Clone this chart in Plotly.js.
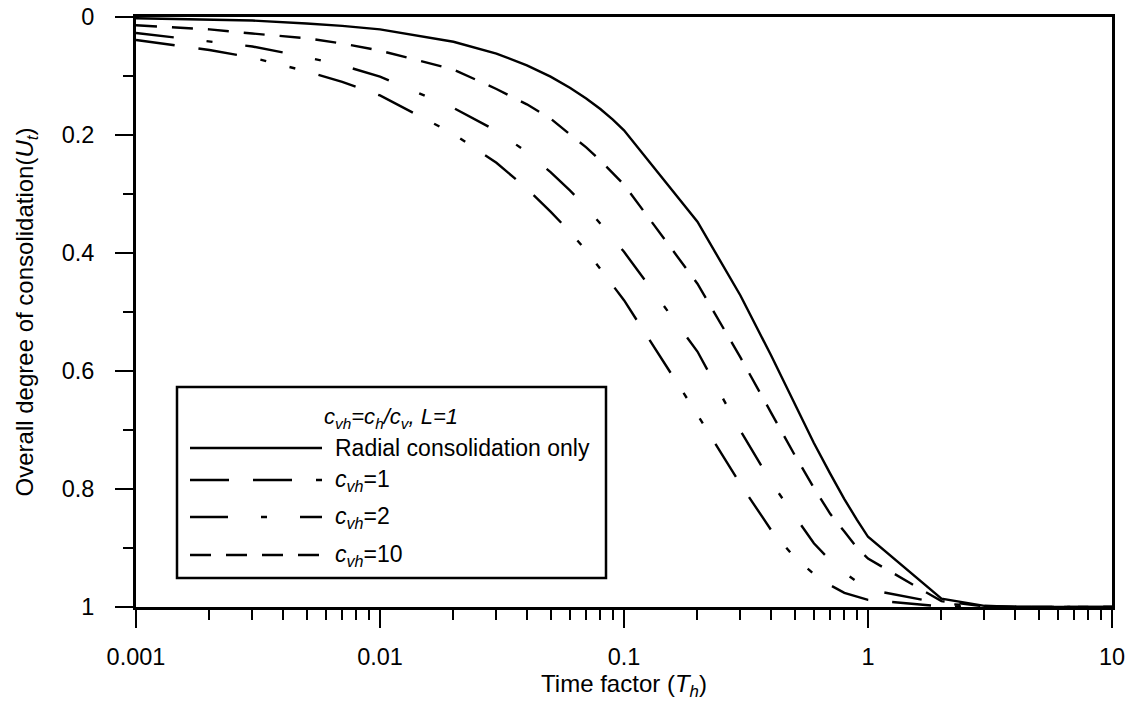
<!DOCTYPE html>
<html><head><meta charset="utf-8">
<script src="https://cdn.plot.ly/plotly-3.0.1.min.js"></script>
<style>html,body{margin:0;padding:0;background:#fff;}#chart{width:1136px;height:706px;}</style>
</head><body><div id="chart"></div>
<script>
// Time factor T_h (nodes of the curves)
const timeFactor = [0.001,0.002,0.003,0.005,0.007,0.01,0.02,0.03,0.04,0.05,0.06,0.07,0.08,0.09,0.1,0.2,0.3,0.4,0.5,0.6,0.7,0.8,0.9,1,2,3,4,5,10];
// Overall degree of consolidation U_t
const radialOnly = [0.002,0.004,0.006,0.011,0.015,0.021,0.042,0.062,0.082,0.101,0.120,0.138,0.156,0.174,0.192,0.347,0.472,0.573,0.655,0.722,0.774,0.817,0.852,0.881,0.986,0.998,1,1,1];
const cvh1 = [0.039,0.056,0.069,0.092,0.110,0.133,0.198,0.247,0.291,0.330,0.364,0.396,0.427,0.454,0.480,0.674,0.792,0.869,0.916,0.944,0.963,0.976,0.983,0.988,0.999,1,1,1,1];
const cvh2 = [0.027,0.042,0.050,0.068,0.082,0.101,0.154,0.193,0.229,0.263,0.294,0.322,0.350,0.376,0.398,0.567,0.701,0.788,0.845,0.892,0.921,0.942,0.957,0.970,0.994,0.999,1,1,1];
const cvh10 = [0.014,0.021,0.028,0.036,0.045,0.057,0.089,0.122,0.148,0.172,0.199,0.221,0.243,0.265,0.284,0.452,0.577,0.670,0.742,0.798,0.842,0.872,0.899,0.918,0.990,0.999,1,1,1];

const seriesNames = ["Radial consolidation only", "<i>c</i><sub><i>vh</i></sub>=1", "<i>c</i><sub><i>vh</i></sub>=2", "<i>c</i><sub><i>vh</i></sub>=10"];
const legendTitle = "<i>c</i><sub><i>vh</i></sub><i>=c</i><sub><i>h</i></sub><i>/c</i><sub><i>v</i></sub><i>, L=1</i>";

const xTickVals = [0.001,0.01,0.1,1,10];
const xTickText = ["0.001","0.01","0.1","1","10"];
const xMinorVals = [0.002,0.003,0.004,0.005,0.006,0.007,0.008,0.009,0.02,0.03,0.04,0.05,0.06,0.07,0.08,0.09,0.2,0.3,0.4,0.5,0.6,0.7,0.8,0.9,2,3,4,5,6,7,8,9];
const yTickVals = [0,0.2,0.4,0.6,0.8,1];
const yTickText = ["0","0.2","0.4","0.6","0.8","1"];
const yMinorVals = [0.1,0.3,0.5,0.7,0.9];

const seriesData = [radialOnly, cvh1, cvh2, cvh10];
const dashes = ['solid', '39px,24px,39px,24px,6px,24px,6px,24px', '38px,33px,6px,33px', '21px,15px'];
const LW = 2.4;

const traces = seriesData.map((ys, i) => ({
  x: timeFactor, y: ys, type: 'scatter', mode: 'lines', name: seriesNames[i],
  line: {color: '#000', width: LW, dash: dashes[i]}, showlegend: false
}));

// custom legend (pixel -> paper helpers)
const L = 136, R = 1112, T = 17, B = 607;
const px = v => (v - L) / (R - L);
const py = v => (B - v) / (B - T);
const rowY = [448, 480, 517, 555];
const shapes = [{type:'rect', xref:'paper', yref:'paper', x0:px(177), x1:px(606), y0:py(578), y1:py(387),
  line:{color:'#000', width:2.5}, fillcolor:'#fff', layer:'above'}];
const annotations = [{xref:'paper', yref:'paper', x:px(391), y:py(418), text: legendTitle, showarrow:false,
  xanchor:'center', yanchor:'middle', font:{size:22, color:'#000'}}];
seriesNames.forEach((n, i) => {
  shapes.push({type:'line', xref:'paper', yref:'paper', x0:px(190), x1:px(322), y0:py(rowY[i]), y1:py(rowY[i]),
    line:{color:'#000', width:LW, dash:dashes[i]}, layer:'above'});
  annotations.push({xref:'paper', yref:'paper', x:px(333), y:py(rowY[i]), text:n, showarrow:false,
    xanchor:'left', yanchor:'middle', font:{size:23, color:'#000'}});
});

const axisCommon = {showline:true, linecolor:'#000', linewidth:3, mirror:true, showgrid:false, zeroline:false,
  ticks:'outside', ticklen:18, tickwidth:2, tickcolor:'#000', tickfont:{size:23.5, color:'#000'}};

const layout = {
  width:1136, height:706,
  margin:{l:L, r:1136-R, t:T, b:706-B},
  paper_bgcolor:'#fff', plot_bgcolor:'#fff',
  font:{family:'"Liberation Sans", Arial, sans-serif', color:'#000'},
  xaxis: Object.assign({}, axisCommon, {
    type:'log', range:[-3, 1], tickmode:'array', tickvals:xTickVals, ticktext:xTickText,
    ticklabelstandoff:9,
    minor:{tickmode:'array', tickvals:xMinorVals, ticks:'outside', ticklen:10, tickwidth:2, tickcolor:'#000', showgrid:false},
    title:{text:'Time factor (<i>T</i><sub><i>h</i></sub>)', font:{size:24, color:'#000'}, standoff:3}
  }),
  yaxis: Object.assign({}, axisCommon, {
    range:[1, 0], tickmode:'array', tickvals:yTickVals, ticktext:yTickText,
    ticklabelstandoff:16,
    minor:{tickmode:'array', tickvals:yMinorVals, ticks:'outside', ticklen:10, tickwidth:2, tickcolor:'#000', showgrid:false},
    title:{text:'Overall degree of consolidation(<i>U</i><sub><i>t</i></sub>)', font:{size:24, color:'#000'}, standoff:22}
  }),
  shapes: shapes,
  annotations: annotations,
  showlegend:false
};

Plotly.newPlot('chart', traces, layout, {displayModeBar:false, staticPlot:true});
</script>
</body></html>
